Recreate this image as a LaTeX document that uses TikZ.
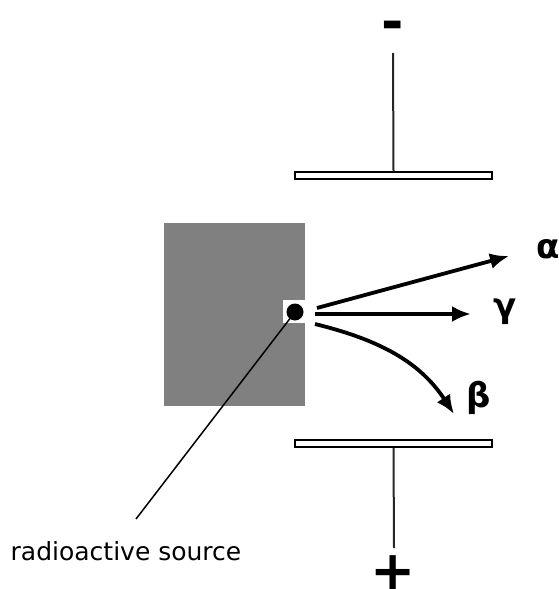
\documentclass[tikz,border=0pt]{standalone}
\usepackage{fontspec}
\setmainfont{DejaVu Sans}
\usetikzlibrary{arrows.meta,positioning}

\begin{document}
\begin{tikzpicture}[x=0.5pt, y=-0.5pt,
  plate/.style={draw=black, line width=1pt, fill=white, inner sep=0pt,
    minimum width=98.5pt, minimum height=3.5pt},
  wire/.style={draw=black!85, line width=1pt},
  ray/.style={-{Latex[length=9.5pt, width=8pt]}, line width=1.9pt, draw=black},
  leader/.style={draw=black, line width=0.75pt},
  greek/.style={font=\bfseries\fontsize{17}{17}\selectfont, inner sep=0pt},
  sign/.style={font=\bfseries\fontsize{27}{27}\selectfont, inner sep=0pt}
]
\useasboundingbox (0,0) rectangle (558,589);
% source block with notch
\fill[gray] (164,223) rectangle (305,406);
\fill[white] (283,300) rectangle (306,323);
\node[circle, fill=black, inner sep=0pt, minimum size=8.5pt] (src) at (295,312) {};

% plates and terminals
\node[sign] (minus) at (393,31) {-};
\node[plate] (topplate) at (393.5,175.5) {};
\node[plate] (botplate) at (393.5,443.5) {};
\node[sign] (plus) at (393,573) {+};
\coordinate (topend) at (393,53);
\coordinate (botend) at (394,548);

% labels
\node[greek] (alpha) at (548,249) {α};
\node[greek] (gamma) at (505,312) {γ};
\node[greek] (beta) at (479,398) {β};
\node[font=\fontsize{12.5}{14}\selectfont, inner sep=0pt] (srclabel) at (126,551) {radioactive source};
\coordinate (leadend) at (136,519);

% ray ends
\coordinate (a0) at (317,308);
\coordinate (a1) at (509,256);
\coordinate (g0) at (315,314);
\coordinate (g1) at (471,314);
\coordinate (b0) at (315,324);
\coordinate (b1) at (454,414);

\draw[wire] (topend) -- (topplate.north);
\draw[wire] (botplate.south) -- (botend);
\draw[leader] (src.center) -- (leadend);
\draw[ray] (a0) -- (a1);
\draw[ray] (g0) -- (g1);
\draw[ray] (b0) .. controls (380,340) and (420,362) .. (b1);
\end{tikzpicture}
\end{document}
